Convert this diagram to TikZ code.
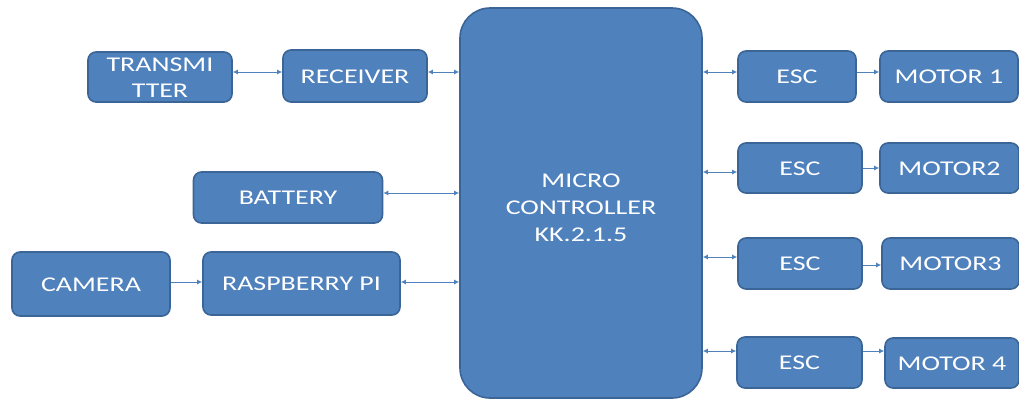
\documentclass[tikz,border=0pt]{standalone}
\usepackage{fontspec}
\setmainfont{Carlito}
\usetikzlibrary{arrows.meta}
\definecolor{boxfill}{HTML}{4F81BD}
\definecolor{boxline}{HTML}{3A6596}
\definecolor{wire}{HTML}{4F81BD}
% horizontally widened label text, set slightly low so the capitals sit centred
\newcommand{\widelabel}[1]{\raisebox{-3pt}[\height][\depth]{\scalebox{1.33}[1]{\begin{tabular}{@{}c@{}}#1\end{tabular}}}}
\tikzset{
  blockbox/.style={draw=boxline, line width=1.6pt, fill=boxfill, rounded corners=8pt,
    text=white, font=\fontsize{21}{21}\selectfont, align=center, inner sep=0pt},
  bothway/.style={draw=wire, line width=1pt, {Latex[length=5pt,width=5pt]}-{Latex[length=5pt,width=5pt]}},
  oneway/.style={draw=wire, line width=1pt, -{Latex[length=5pt,width=5pt]}}
}
\begin{document}
\begin{tikzpicture}[x=1pt,y=-1pt]
\useasboundingbox (0,0) rectangle (1019,400);

% central controller
\node[blockbox, rounded corners=30pt, minimum width=242pt, minimum height=390pt] (mc) at (581,203) {};
\node[text=white, font=\fontsize{21}{27}\selectfont, inner sep=0pt] (mctext) at (581,206) {\widelabel{MICRO\\CONTROLLER\\KK.2.1.5}};

% left side
\node[blockbox, minimum width=144pt, minimum height=50pt] (tx) at (160,77) {\widelabel{TRANSMI\\[5pt]TTER}};
\node[blockbox, minimum width=144pt, minimum height=52pt] (rx) at (355,76) {\widelabel{RECEIVER}};
\node[blockbox, minimum width=189pt, minimum height=51pt] (bat) at (288,197.5) {\widelabel{BATTERY}};
\node[blockbox, minimum width=158pt, minimum height=64pt] (cam) at (91,284) {\widelabel{CAMERA}};
\node[blockbox, minimum width=197pt, minimum height=63pt] (rpi) at (301.5,283.5) {\widelabel{RASPBERRY PI}};

% right side
\node[blockbox, minimum width=118pt, minimum height=51pt] (esc1) at (797,76.5) {\widelabel{ESC}};
\node[blockbox, minimum width=138pt, minimum height=51pt] (m1) at (949,76.5) {\widelabel{MOTOR 1}};
\node[blockbox, minimum width=124pt, minimum height=50pt] (esc2) at (800,168) {\widelabel{ESC}};
\node[blockbox, minimum width=139pt, minimum height=50pt] (m2) at (949.5,168) {\widelabel{MOTOR2}};
\node[blockbox, minimum width=124pt, minimum height=51pt] (esc3) at (800,263.5) {\widelabel{ESC}};
\node[blockbox, minimum width=137pt, minimum height=51pt] (m3) at (950.5,263.5) {\widelabel{MOTOR3}};
\node[blockbox, minimum width=125pt, minimum height=51pt] (esc4) at (799.5,362.5) {\widelabel{ESC}};
\node[blockbox, minimum width=134pt, minimum height=50pt] (m4) at (952,363) {\widelabel{MOTOR 4}};

% connectors, left (yshift works on the canvas: positive is upward)
\draw[bothway] ([yshift=5pt]tx.east) -- ([yshift=5pt]tx.east -| rx.west);
\draw[bothway] ([yshift=4pt]rx.east) -- ([yshift=4pt]rx.east -| mc.west);
\draw[bothway] ([yshift=4.5pt]bat.east) -- ([yshift=4.5pt]bat.east -| mc.west);
\draw[oneway] ([yshift=2pt]cam.east) -- ([yshift=2pt]cam.east -| rpi.west);
\draw[bothway] ([yshift=1.5pt]rpi.east) -- ([yshift=1.5pt]rpi.east -| mc.west);

% connectors, right
\draw[bothway] (mc.east |- esc1.west) ++(0,-4.5) coordinate (a1) -- (a1 -| esc1.west);
\draw[bothway] (mc.east |- esc2.west) ++(0,4) coordinate (a2) -- (a2 -| esc2.west);
\draw[bothway] (mc.east |- esc3.west) ++(0,-6.5) coordinate (a3) -- (a3 -| esc3.west);
\draw[bothway] (mc.east |- esc4.west) ++(0,-11.5) coordinate (a4) -- (a4 -| esc4.west);
\draw[oneway] ([yshift=4.5pt]esc1.east) -- ([yshift=4.5pt]esc1.east -| m1.west);
\draw[oneway] (esc2.east) -- (m2.west);
\draw[oneway] ([yshift=-1.5pt]esc3.east) -- ([yshift=-1.5pt]esc3.east -| m3.west);
\draw[oneway] ([yshift=11.5pt]esc4.east) -- ([yshift=11.5pt]esc4.east -| m4.west);
\end{tikzpicture}
\end{document}
